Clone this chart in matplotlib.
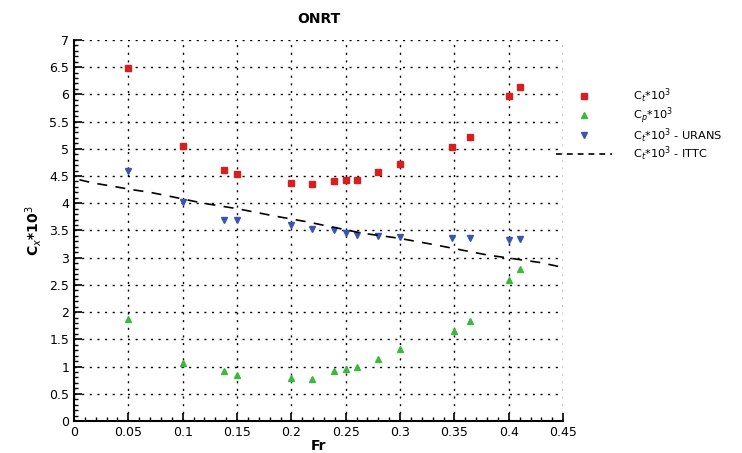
import matplotlib
matplotlib.use("Agg")
import matplotlib.pyplot as plt
from matplotlib.ticker import MultipleLocator, FuncFormatter

fr_ct = [0.05, 0.10, 0.138, 0.15, 0.20, 0.219, 0.239, 0.25, 0.26, 0.28, 0.30, 0.348, 0.364, 0.40, 0.41]
ct = [6.49, 5.05, 4.61, 4.54, 4.37, 4.36, 4.40, 4.43, 4.43, 4.58, 4.72, 5.04, 5.21, 5.96, 6.13]

fr_cp = [0.05, 0.10, 0.138, 0.15, 0.20, 0.219, 0.239, 0.25, 0.26, 0.28, 0.30, 0.35, 0.364, 0.40, 0.41]
cp = [1.87, 1.06, 0.91, 0.85, 0.79, 0.78, 0.91, 0.96, 1.00, 1.14, 1.32, 1.66, 1.84, 2.59, 2.79]

fr_urans = [0.05, 0.10, 0.138, 0.15, 0.20, 0.219, 0.239, 0.25, 0.26, 0.28, 0.30, 0.348, 0.364, 0.40, 0.41]
ct_urans = [4.59, 4.03, 3.70, 3.69, 3.60, 3.52, 3.50, 3.46, 3.42, 3.40, 3.38, 3.36, 3.36, 3.33, 3.34]

fr_ittc = [0.005, 0.018, 0.036, 0.053, 0.07, 0.085, 0.102, 0.119, 0.15, 0.168, 0.183, 0.214,
           0.265, 0.298, 0.331, 0.38, 0.429, 0.45]
ct_ittc = [4.43, 4.37, 4.31, 4.25, 4.20, 4.14, 4.07, 4.00, 3.90, 3.83, 3.77, 3.66,
           3.45, 3.36, 3.24, 3.05, 2.91, 2.82]

fig = plt.figure(figsize=(7.42, 4.53), dpi=100)
ax = fig.add_axes([0.0997, 0.0706, 0.6593, 0.8414])

ax.plot(fr_ct, ct, 's', color='#d62020', markersize=5, linestyle='none', label='C$_t$*10$^3$')
ax.plot(fr_cp, cp, '^', color='#3cb83c', markersize=5, linestyle='none', label='C$_p$*10$^3$')
ax.plot(fr_urans, ct_urans, 'v', color='#3a55b0', markersize=5, linestyle='none', label='C$_t$*10$^3$ - URANS')
ax.plot(fr_ittc, ct_ittc, '--', color='black', linewidth=1.2, dashes=(6, 5), label='C$_t$*10$^3$ - ITTC')

fmt = FuncFormatter(lambda v, p: '%g' % round(v, 3))
ax.set_xlim(0, 0.45)
ax.set_ylim(0, 7)
ax.xaxis.set_major_locator(MultipleLocator(0.05))
ax.xaxis.set_minor_locator(MultipleLocator(0.01))
ax.yaxis.set_major_locator(MultipleLocator(0.5))
ax.yaxis.set_minor_locator(MultipleLocator(0.1))
ax.xaxis.set_major_formatter(fmt)
ax.yaxis.set_major_formatter(fmt)
ax.tick_params(direction='in', which='major', length=6, width=1.2, labelsize=9)
ax.tick_params(direction='in', which='minor', length=3, width=1)
ax.grid(True, which='major', linestyle=(0, (1.5, 4)), color='black', linewidth=1)
for side in ['top', 'right']:
    ax.spines[side].set_visible(False)
for side in ['left', 'bottom']:
    ax.spines[side].set_linewidth(1.5)

ax.set_xlabel('Fr', fontsize=10, fontweight='bold', labelpad=0)
ax.set_ylabel('C$_x$*10$^3$', fontsize=10, fontweight='bold')
ax.set_title('ONRT', fontsize=10, fontweight='bold', pad=12)

leg = ax.legend(loc='upper left', bbox_to_anchor=(0.975, 0.89), frameon=False, fontsize=8.2,
                handlelength=5.0, handletextpad=1.8, labelspacing=0.02, borderaxespad=0)
leg.get_lines()[3].set_dashes((3.5, 3))

fig.savefig('out.png', dpi=100)
